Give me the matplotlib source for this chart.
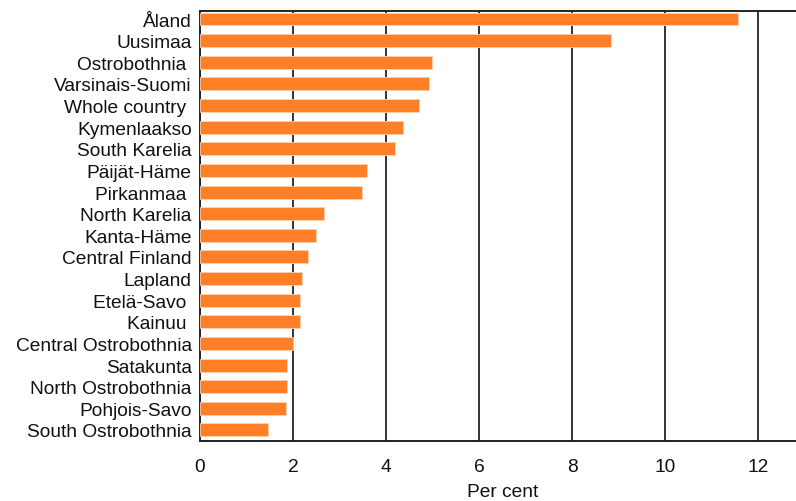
import numpy as np
import matplotlib.pyplot as plt

# Data
regions = ["Åland", "Uusimaa", "Ostrobothnia ", "Varsinais-Suomi", "Whole country ",
           "Kymenlaakso", "South Karelia", "Päijät-Häme", "Pirkanmaa ", "North Karelia",
           "Kanta-Häme", "Central Finland", "Lapland", "Etelä-Savo ", "Kainuu ",
           "Central Ostrobothnia", "Satakunta", "North Ostrobothnia", "Pohjois-Savo",
           "South Ostrobothnia"]
values = [11.56, 8.84, 4.98, 4.92, 4.70, 4.36, 4.19, 3.60, 3.49, 2.67,
          2.49, 2.32, 2.19, 2.15, 2.15, 1.99, 1.88, 1.88, 1.84, 1.47]
xticks = [0, 2, 4, 6, 8, 10, 12]

plt.rcParams['font.family'] = ['Liberation Sans', 'DejaVu Sans']

fig = plt.figure(figsize=(7.96, 5.02), dpi=100)
ax = fig.add_axes([200 / 796, 1 - 442 / 502, 596 / 796, 430 / 502])

y = np.arange(len(regions))
ax.barh(y, values, height=0.6, color="#FF7F27", edgecolor="#FFD0B0", linewidth=0.6, zorder=3)

ax.set_xlim(0, 596 / 46.5)
ax.set_ylim(len(regions) - 1 + 0.51, -0.37)
ax.set_xticks(xticks)
ax.set_yticks(y)
ax.set_yticklabels(regions)

ax.grid(axis="x", color="#333333", linewidth=1.4, zorder=1)
ax.tick_params(axis="both", length=0, labelsize=13.8, colors="#111111")
ax.tick_params(axis="y", pad=6)
ax.tick_params(axis="x", pad=12)

for side in ["left", "top", "bottom"]:
    ax.spines[side].set_color("#222222")
    ax.spines[side].set_linewidth(1.4)
ax.spines["right"].set_visible(False)

ax.set_xlabel("Per cent", fontsize=13.8, color="#111111")
ax.xaxis.set_label_coords((503 - 200) / 596, -0.097)

fig.savefig("out.png", dpi=100)
